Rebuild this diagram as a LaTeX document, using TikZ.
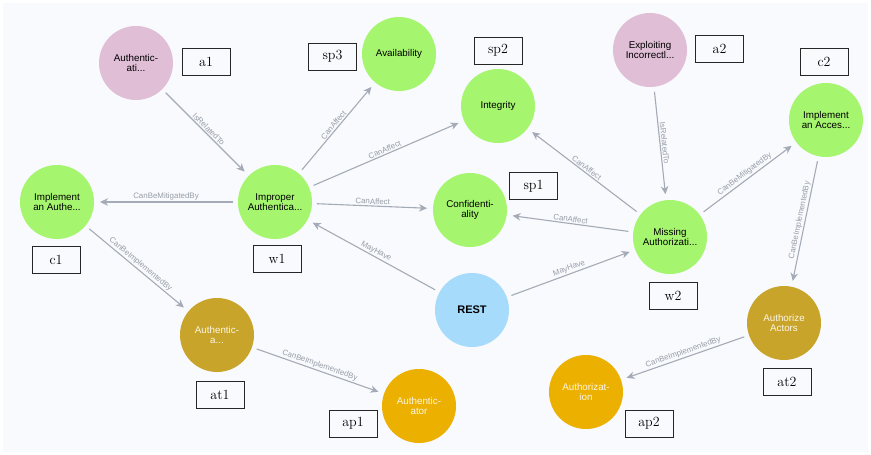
\documentclass[tikz,border=0pt]{standalone}
\usepackage{fontspec}
\setsansfont{Liberation Sans}
\usetikzlibrary{arrows.meta}

\definecolor{canvas}{HTML}{F8FAFD}
\definecolor{weakgreen}{HTML}{A5F56E}
\definecolor{attackpink}{HTML}{DFBED6}
\definecolor{techblue}{HTML}{A6DBFC}
\definecolor{tacticgold}{HTML}{C9A42B}
\definecolor{patternorange}{HTML}{EBB000}
\definecolor{edgegray}{HTML}{A5ABB6}
\definecolor{edgetext}{HTML}{989DA7}
\definecolor{lighttext}{HTML}{FBF6E6}

\tikzset{
  entity/.style={circle, minimum size=74pt, inner sep=0pt, outer sep=0pt,
    align=center, font=\sffamily\fontsize{9.8}{10}\selectfont},
  weakness/.style={entity, fill=weakgreen},
  attack/.style={entity, fill=attackpink},
  technology/.style={entity, fill=techblue, font=\sffamily\bfseries\fontsize{11}{12}\selectfont},
  tactic/.style={entity, fill=tacticgold, text=lighttext},
  pattern/.style={entity, fill=patternorange, text=lighttext},
  tagbox/.style={draw=black!85, line width=0.9pt, fill=canvas, minimum width=48pt,
    minimum height=27pt, inner sep=0pt, font=\fontsize{14}{14}\selectfont},
  rel/.style={draw=edgegray, line width=1.1pt, shorten <=5pt, shorten >=6pt,
    -{Stealth[length=8pt,width=7.5pt,inset=2.5pt]}},
  rellabel/.style={sloped, above, midway, inner sep=1.2pt, text=edgetext,
    font=\sffamily\fontsize{7.9}{8}\selectfont}
}

\begin{document}
\begin{tikzpicture}[x=1pt,y=-1pt]
  % canvas
  \useasboundingbox (0,0) rectangle (871,455);
  \fill[white] (0,0) rectangle (871,455);
  \fill[canvas] (3,3) rectangle (868,452);

  % entities
  \node[attack]     (a1)  at (136,63)  {Authentic-\\ati...};
  \node[weakness]   (c1)  at (57,202)  {Implement\\an Authe...};
  \node[weakness]   (w1)  at (275,202) {Improper\\Authentica...};
  \node[weakness]   (sp3) at (399,54)  {Availability};
  \node[weakness]   (sp2) at (498,106) {Integrity};
  \node[weakness]   (sp1) at (470,210) {Confidenti-\\ality};
  \node[attack]     (a2)  at (650,50)  {Exploiting\\Incorrectl...};
  \node[weakness]   (c2)  at (826,120) {Implement\\an Acces...};
  \node[weakness]   (w2)  at (670,237) {Missing\\Authorizati...};
  \node[technology] (rest) at (472,310) {REST};
  \node[tactic]     (at1) at (217,335) {Authentic-\\a...};
  \node[pattern]    (ap1) at (419,406) {Authentic-\\ator};
  \node[tactic]     (at2) at (784,323) {Authorize\\Actors};
  \node[pattern]    (ap2) at (586,392) {Authorizat-\\ion};

  % relationships
  \draw[rel] (a1) -- node[rellabel] {IsRelatedTo} (w1);
  \draw[rel] (w1) -- node[rellabel] {CanBeMitigatedBy} (c1);
  \draw[rel] (w1) -- node[rellabel] {CanAffect} (sp3);
  \draw[rel] (w1) -- node[rellabel] {CanAffect} (sp2);
  \draw[rel] (w1) -- node[rellabel] {CanAffect} (sp1);
  \draw[rel] (rest) -- node[rellabel] {MayHave} (w1);
  \draw[rel] (rest) -- node[rellabel] {MayHave} (w2);
  \draw[rel] (w2) -- node[rellabel] {CanAffect} (sp2);
  \draw[rel] (w2) -- node[rellabel] {CanAffect} (sp1);
  \draw[rel] (a2) -- node[rellabel] {IsRelatedTo} (w2);
  \draw[rel] (w2) -- node[rellabel] {CanBeMitigatedBy} (c2);
  \draw[rel] (c2) -- node[rellabel] {CanBeImplementedBy} (at2);
  \draw[rel] (at2) -- node[rellabel] {CanBeImplementedBy} (ap2);
  \draw[rel] (c1) -- node[rellabel] {CanBeImplementedBy} (at1);
  \draw[rel] (at1) -- node[rellabel] {CanBeImplementedBy} (ap1);

  % identifier tags
  \node[tagbox] (ta1)  at (206,62)    {a1};
  \node[tagbox] (tc1)  at (56,260)    {c1};
  \node[tagbox] (tw1)  at (277,259)   {w1};
  \node[tagbox] (tsp3) at (332.5,56.5) {sp3};
  \node[tagbox] (tsp2) at (498,50.5)  {sp2};
  \node[tagbox] (tsp1) at (533.5,186) {sp1};
  \node[tagbox] (ta2)  at (719.5,49)  {a2};
  \node[tagbox] (tc2)  at (824,62)    {c2};
  \node[tagbox] (tw2)  at (673,295.5) {w2};
  \node[tagbox] (tat2) at (787,382)   {at2};
  \node[tagbox] (tap2) at (649,423.5) {ap2};
  \node[tagbox] (tap1) at (353,423.5) {ap1};
  \node[tagbox] (tat1) at (220,394.5) {at1};
\end{tikzpicture}
\end{document}
